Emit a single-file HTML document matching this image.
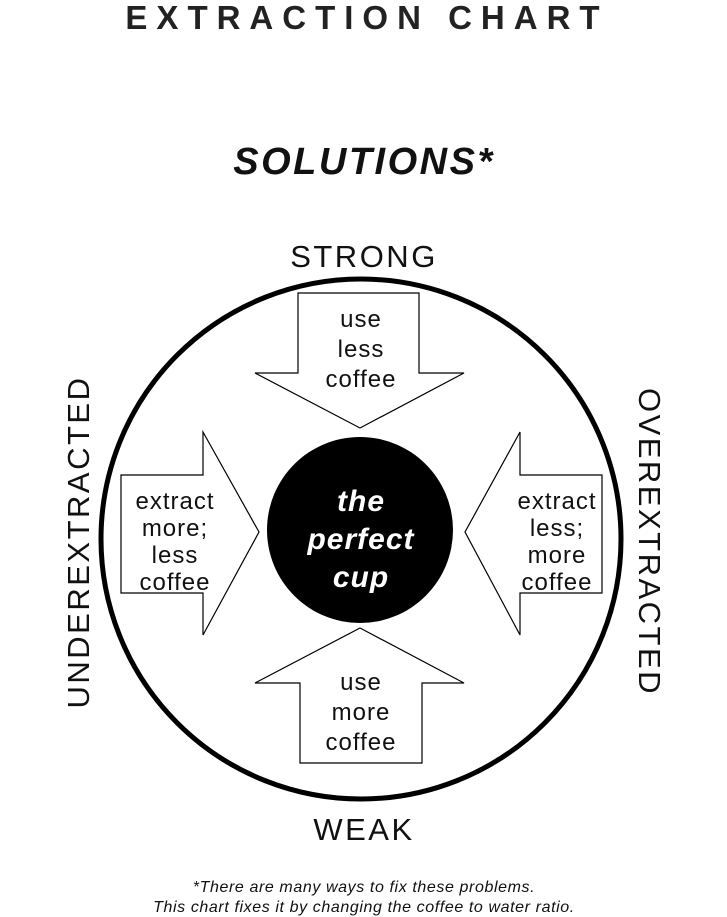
<!DOCTYPE html>
<html><head><style>
body{margin:0;background:#fff;}
svg{display:block;font-family:"Liberation Sans",sans-serif;}
</style></head><body>
<svg width="727" height="917" viewBox="0 0 727 917">
<text x="367" y="29" text-anchor="middle" font-size="33" font-weight="bold" letter-spacing="9" fill="#222">EXTRACTION CHART</text>
<text x="364" y="174" text-anchor="middle" font-size="38" font-weight="bold" font-style="italic" letter-spacing="2.5" fill="#111">SOLUTIONS*</text>
<text x="364" y="267" text-anchor="middle" font-size="31" letter-spacing="2.5" fill="#111">STRONG</text>
<text x="364" y="840" text-anchor="middle" font-size="31" letter-spacing="2.5" fill="#111">WEAK</text>
<text transform="translate(89,542) rotate(-90)" text-anchor="middle" font-size="31" letter-spacing="2.5" fill="#111">UNDEREXTRACTED</text>
<text transform="translate(639,542) rotate(90)" text-anchor="middle" font-size="31" letter-spacing="2.5" fill="#111">OVEREXTRACTED</text>
<circle cx="361" cy="539" r="260" fill="none" stroke="#000" stroke-width="5"/>
<g fill="#fff" stroke="#000" stroke-width="1.2">
<polygon points="298,293 419,293 419,373 464,373 360,428 255,373 298,373"/>
<polygon points="300,763 422,763 422,683 464,683 360,628 255,683 300,683"/>
<polygon points="121,475 203,475 203,432 259,532 203,635 203,593 121,593"/>
<polygon points="602,475 520,475 520,432 465,532 520,635 520,593 602,593"/>
</g>
<circle cx="360" cy="530" r="93" fill="#000"/>
<g font-size="24" fill="#111" text-anchor="middle" letter-spacing="1">
<text x="361" y="327">use</text><text x="361" y="357">less</text><text x="361" y="387">coffee</text>
<text x="361" y="690">use</text><text x="361" y="720">more</text><text x="361" y="750">coffee</text>
<text x="175" y="509">extract</text><text x="175" y="536">more;</text><text x="175" y="563">less</text><text x="175" y="590">coffee</text>
<text x="557" y="509">extract</text><text x="557" y="536">less;</text><text x="557" y="563">more</text><text x="557" y="590">coffee</text>
</g>
<g font-size="30" font-weight="bold" font-style="italic" fill="#fff" text-anchor="middle" letter-spacing="1">
<text x="361" y="511">the</text><text x="361" y="549">perfect</text><text x="361" y="587">cup</text>
</g>
<g font-size="16" font-style="italic" fill="#111" text-anchor="middle" letter-spacing="0.6">
<text x="364" y="892">*There are many ways to fix these problems.</text>
<text x="364" y="912">This chart fixes it by changing the coffee to water ratio.</text>
</g>
</svg>
</body></html>
